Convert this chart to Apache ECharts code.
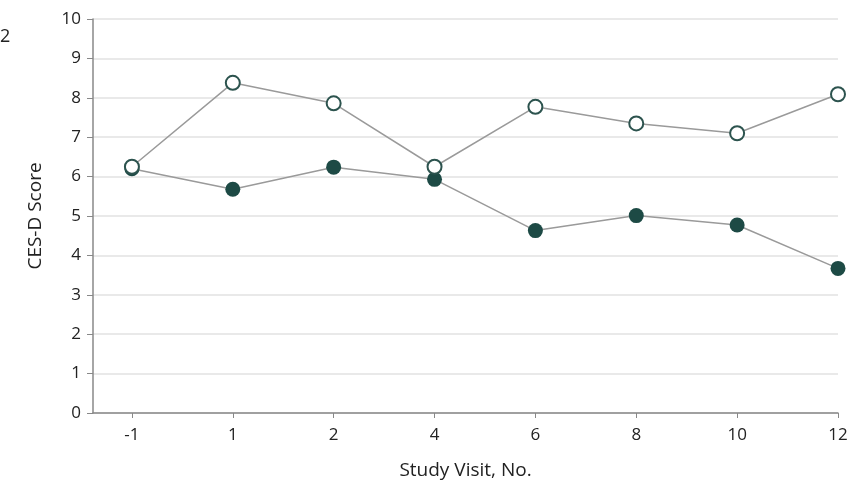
<!DOCTYPE html>
<html>
<head>
<meta charset="utf-8">
<script src="https://cdn.jsdelivr.net/npm/echarts@6/dist/echarts.min.js"></script>
<style>html,body{margin:0;padding:0;background:#fff;}#c{width:854px;height:485px;}</style>
</head>
<body>
<div id="c"></div>
<script>
var visits = ['-1', '1', '2', '4', '6', '8', '10', '12'];
var filledScores = [6.2, 5.68, 6.24, 5.93, 4.63, 5.01, 4.77, 3.67];
var openScores = [6.25, 8.38, 7.86, 6.25, 7.77, 7.35, 7.10, 8.09];
var yTicks = [0, 1, 2, 3, 4, 5, 6, 7, 8, 9, 10];

var idx = visits.map(function (v, i) { return i; });
function pairs(arr) { return arr.map(function (v, i) { return [i, v]; }); }

var font = '"Open Sans", "Noto Sans", sans-serif';
var chart = echarts.init(document.getElementById('c'), null, { renderer: 'canvas' });
chart.setOption({
  animation: false,
  backgroundColor: '#fff',
  grid: { left: 93, right: 16, top: 19, bottom: 72, containLabel: false },
  graphic: [{ type: 'text', left: 0, top: 28, style: { text: '2', fontSize: 18, fill: '#222', fontFamily: font } }],
  xAxis: {
    type: 'value',
    min: -0.386, max: 7,
    name: 'Study Visit, No.', nameLocation: 'middle', nameGap: 48,
    nameTextStyle: { fontSize: 19, color: '#222', fontFamily: font },
    axisLine: { show: true, onZero: false, lineStyle: { color: '#888', width: 1.5 } },
    axisTick: { show: true, customValues: idx, length: 5, lineStyle: { color: '#888' } },
    axisLabel: { customValues: idx, margin: 14, fontSize: 17, color: '#222', fontFamily: font,
      formatter: function (v) { return visits[Math.round(v)]; } },
    splitLine: { show: false }
  },
  yAxis: {
    type: 'value', min: 0, max: 10, interval: 1,
    name: 'CES-D Score', nameLocation: 'middle', nameGap: 48,
    nameTextStyle: { fontSize: 19, color: '#222', fontFamily: font },
    axisLine: { show: true, onZero: false, lineStyle: { color: '#888', width: 1.5 } },
    axisTick: { show: true, length: 6, lineStyle: { color: '#888' } },
    axisLabel: { fontSize: 17, color: '#222', margin: 12, fontFamily: font,
      formatter: function (v) { return yTicks.indexOf(v) >= 0 ? String(v) : ''; } },
    splitLine: { show: true, lineStyle: { color: '#e9e9e9', width: 2 } }
  },
  series: [
    {
      type: 'line', data: pairs(filledScores), z: 2,
      symbol: 'circle', symbolSize: 15,
      lineStyle: { color: '#9a9a9a', width: 1.5 },
      itemStyle: { color: '#1d4a45', borderColor: '#1d4a45', borderWidth: 0 }
    },
    {
      type: 'line', data: pairs(openScores), z: 3,
      symbol: 'circle', symbolSize: 14,
      lineStyle: { color: '#9a9a9a', width: 1.5 },
      itemStyle: { color: '#ffffff', borderColor: '#2c534e', borderWidth: 2 }
    }
  ]
});
</script>
</body>
</html>
